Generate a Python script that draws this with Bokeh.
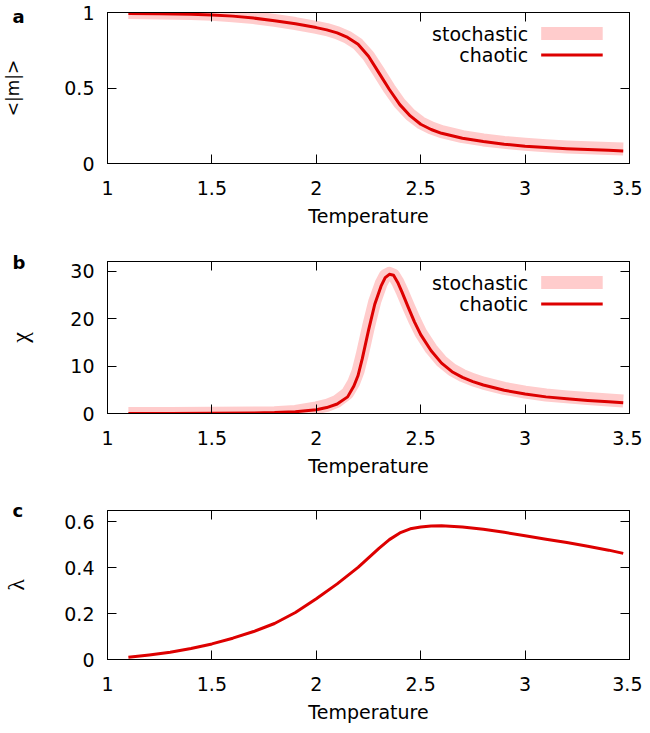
from bokeh.plotting import figure
from bokeh.models import (Range1d, FixedTicker, NumeralTickFormatter, LinearAxis,
                          Label, BoxAnnotation, CustomJSTickFormatter)
from bokeh.layouts import column
from bokeh.embed import file_html
from bokeh.resources import INLINE

# ---------------- data ----------------
T_M = [1.10, 1.25, 1.40, 1.50, 1.60, 1.70, 1.80, 1.90, 2.00, 2.05, 2.10, 2.15,
       2.20, 2.25, 2.30, 2.35, 2.40, 2.45, 2.50, 2.55, 2.60, 2.70, 2.80, 2.90,
       3.00, 3.10, 3.20, 3.30, 3.40, 3.47]
M_STOCHASTIC = [1.000, 0.997, 0.993, 0.988, 0.979, 0.966, 0.948, 0.927, 0.902,
                0.887, 0.866, 0.836, 0.790, 0.712, 0.605, 0.495, 0.398, 0.324,
                0.270, 0.236, 0.211, 0.178, 0.156, 0.140, 0.128, 0.118, 0.110,
                0.104, 0.099, 0.096]
M_CHAOTIC = [0.993, 0.991, 0.988, 0.984, 0.976, 0.963, 0.945, 0.925, 0.900,
             0.885, 0.865, 0.835, 0.790, 0.710, 0.600, 0.490, 0.390, 0.315,
             0.260, 0.225, 0.200, 0.167, 0.145, 0.128, 0.115, 0.106, 0.098,
             0.092, 0.087, 0.083]

T_CHI = [1.10, 1.30, 1.50, 1.70, 1.80, 1.90, 2.00, 2.05, 2.10, 2.15, 2.18, 2.20,
         2.22, 2.25, 2.28, 2.31, 2.33, 2.35, 2.37, 2.39, 2.41, 2.44, 2.47, 2.50,
         2.55, 2.60, 2.65, 2.70, 2.75, 2.80, 2.90, 3.00, 3.10, 3.20, 3.30, 3.40,
         3.47]
CHI_STOCHASTIC = [0.00, 0.01, 0.03, 0.08, 0.15, 0.45, 1.20, 1.70, 2.60, 4.30,
                  6.60, 8.90, 12.4, 18.3, 23.6, 27.3, 29.0, 29.5, 29.1, 27.7,
                  25.8, 22.7, 19.7, 17.0, 13.6, 11.0, 9.2, 8.0, 7.1, 6.4, 5.3,
                  4.5, 3.9, 3.5, 3.15, 2.85, 2.65]
CHI_CHAOTIC = [0.00, 0.02, 0.05, 0.12, 0.20, 0.38, 0.80, 1.25, 2.00, 3.50,
               5.80, 8.00, 11.5, 17.5, 23.0, 26.8, 28.6, 29.3, 29.1, 27.6,
               25.6, 22.4, 19.3, 16.6, 13.2, 10.6, 8.8, 7.6, 6.7, 6.0, 4.9,
               4.1, 3.5, 3.1, 2.75, 2.45, 2.25]

T_LAMBDA = [1.10, 1.20, 1.30, 1.40, 1.50, 1.60, 1.70, 1.80, 1.90, 2.00, 2.10,
            2.20, 2.25, 2.30, 2.35, 2.40, 2.45, 2.50, 2.55, 2.60, 2.70, 2.80,
            2.90, 3.00, 3.10, 3.20, 3.30, 3.40, 3.47]
LAMBDA_CHAOTIC = [0.010, 0.020, 0.032, 0.048, 0.068, 0.093, 0.122, 0.157, 0.205,
                  0.265, 0.330, 0.402, 0.443, 0.485, 0.523, 0.552, 0.570, 0.578,
                  0.582, 0.583, 0.578, 0.568, 0.555, 0.540, 0.525, 0.510, 0.494,
                  0.477, 0.463]

X_TICKS = [1, 1.5, 2, 2.5, 3, 3.5]
M_TICKS = [0, 0.5, 1]
CHI_TICKS = [0, 10, 20, 30]
LAMBDA_TICKS = [0, 0.2, 0.4, 0.6]

X_RANGE = (1, 3.5)
M_RANGE = (0, 1)
CHI_RANGE = (0, 32)
LAMBDA_RANGE = (0, 0.65)

X_LABEL = "Temperature"
SERIES_LABELS = ["stochastic", "chaotic"]
PANEL_LETTERS = ["a", "b", "c"]

# ---------------- styling / layout ----------------
PINK = "#ffcccc"
RED = "#dd0000"
SANS = "DejaVu Sans"
SERIF = "Liberation Serif"
FS = "19px"

W = 642
FL, FR = 103, 13
FW = W - FL - FR


def xd(px):
    """pixel offset from the frame's left edge -> data x"""
    return X_RANGE[0] + px / FW * (X_RANGE[1] - X_RANGE[0])


def yd(py, yr, fh):
    """pixel offset below the frame's top edge -> data y"""
    return yr[1] - py / fh * (yr[1] - yr[0])


def mirror_axis(ticks):
    return LinearAxis(ticker=FixedTicker(ticks=ticks),
                      formatter=CustomJSTickFormatter(code="return ''"),
                      major_tick_in=9, major_tick_out=0,
                      minor_tick_in=0, minor_tick_out=0,
                      major_label_standoff=0, major_label_text_font_size="0px",
                      axis_line_color="black", major_tick_line_color="black")


def make_panel(height, top, bottom, yr, yticks, ylabel, ylabel_font,
               ylabel_size, ylabel_standoff, letter, letter_standoff):
    p = figure(width=W, height=height, x_range=Range1d(*X_RANGE),
               y_range=Range1d(*yr), output_backend="svg",
               toolbar_location=None, min_border_left=FL, min_border_right=FR,
               min_border_top=top, min_border_bottom=bottom,
               x_axis_label=X_LABEL, y_axis_label=ylabel)
    p.background_fill_color = "white"
    p.border_fill_color = "white"
    p.outline_line_color = "black"
    p.xgrid.visible = False
    p.ygrid.visible = False

    xa = p.xaxis[0]
    xa.ticker = FixedTicker(ticks=X_TICKS)
    xa.formatter = NumeralTickFormatter(format="0.[0]")
    ya = p.yaxis[0]
    ya.ticker = FixedTicker(ticks=yticks)
    ya.formatter = NumeralTickFormatter(format="0.[0]")
    for ax in (xa, ya):
        ax.major_tick_in = 9
        ax.major_tick_out = 0
        ax.minor_tick_in = 0
        ax.minor_tick_out = 0
        ax.axis_line_color = "black"
        ax.major_tick_line_color = "black"
        ax.major_label_text_font = SANS
        ax.major_label_text_font_size = FS
        ax.major_label_text_color = "black"
        ax.axis_label_text_color = "black"
        ax.axis_label_text_font_style = "normal"
    xa.major_label_standoff = 17
    xa.axis_label_standoff = 7
    xa.axis_label_text_font = SANS
    xa.axis_label_text_font_size = FS
    ya.major_label_standoff = 13
    ya.axis_label_standoff = ylabel_standoff
    ya.axis_label_text_font = ylabel_font
    ya.axis_label_text_font_size = ylabel_size

    p.add_layout(mirror_axis(X_TICKS), "above")
    p.add_layout(mirror_axis(yticks), "right")

    # panel letter, placed at the top-left corner of the canvas
    p.title.text = letter
    p.title.align = "left"
    p.title.offset = -(FL - 8)
    p.title.standoff = letter_standoff
    p.title.vertical_align = "bottom"
    p.title.text_font = SANS
    p.title.text_font_style = "bold"
    p.title.text_font_size = "18px"
    p.title.text_color = "black"
    return p


def add_legend(p, yr, fh):
    rows = [21, 42.5]
    for lab, py in zip(SERIES_LABELS, rows):
        p.add_layout(Label(x=xd(FW - 102), y=yd(py, yr, fh), text=lab,
                           text_font=SANS, text_font_size=FS,
                           text_align="right", text_baseline="middle",
                           text_color="black"))
    p.add_layout(BoxAnnotation(left=xd(FW - 89), right=xd(FW - 27),
                               top=yd(rows[0] - 6.5, yr, fh),
                               bottom=yd(rows[0] + 6.5, yr, fh),
                               fill_color=PINK, fill_alpha=1.0, line_alpha=0))
    p.add_layout(BoxAnnotation(left=xd(FW - 89), right=xd(FW - 27),
                               top=yd(rows[1] - 1.5, yr, fh),
                               bottom=yd(rows[1] + 1.5, yr, fh),
                               fill_color=RED, fill_alpha=1.0, line_alpha=0))


# panel a
FH_A = 151
pa = make_panel(250, 12, 87, M_RANGE, M_TICKS, "<|m|>", SANS, "17px", 38,
                PANEL_LETTERS[0], -28)
pa.line(T_M, M_STOCHASTIC, line_width=13, color=PINK, line_cap="butt",
        line_join="round")
pa.line(T_M, M_CHAOTIC, line_width=3, color=RED, line_join="round")
add_legend(pa, M_RANGE, FH_A)

# panel b
FH_B = 152
pb = make_panel(250, 11, 87, CHI_RANGE, CHI_TICKS, "χ", SERIF, "24px", 34,
                PANEL_LETTERS[1], -23)
pb.line(T_CHI, CHI_STOCHASTIC, line_width=13, color=PINK, line_cap="butt",
        line_join="round")
pb.line(T_CHI, CHI_CHAOTIC, line_width=3, color=RED, line_join="round")
add_legend(pb, CHI_RANGE, FH_B)

# panel c
pc = make_panel(225, 10, 63, LAMBDA_RANGE, LAMBDA_TICKS, "λ", SERIF, "24px", 32,
                PANEL_LETTERS[2], -20)
pc.line(T_LAMBDA, LAMBDA_CHAOTIC, line_width=3, color=RED, line_join="round")

layout = column(pa, pb, pc, spacing=0)

open("out.html", "w").write(file_html(layout, INLINE))
